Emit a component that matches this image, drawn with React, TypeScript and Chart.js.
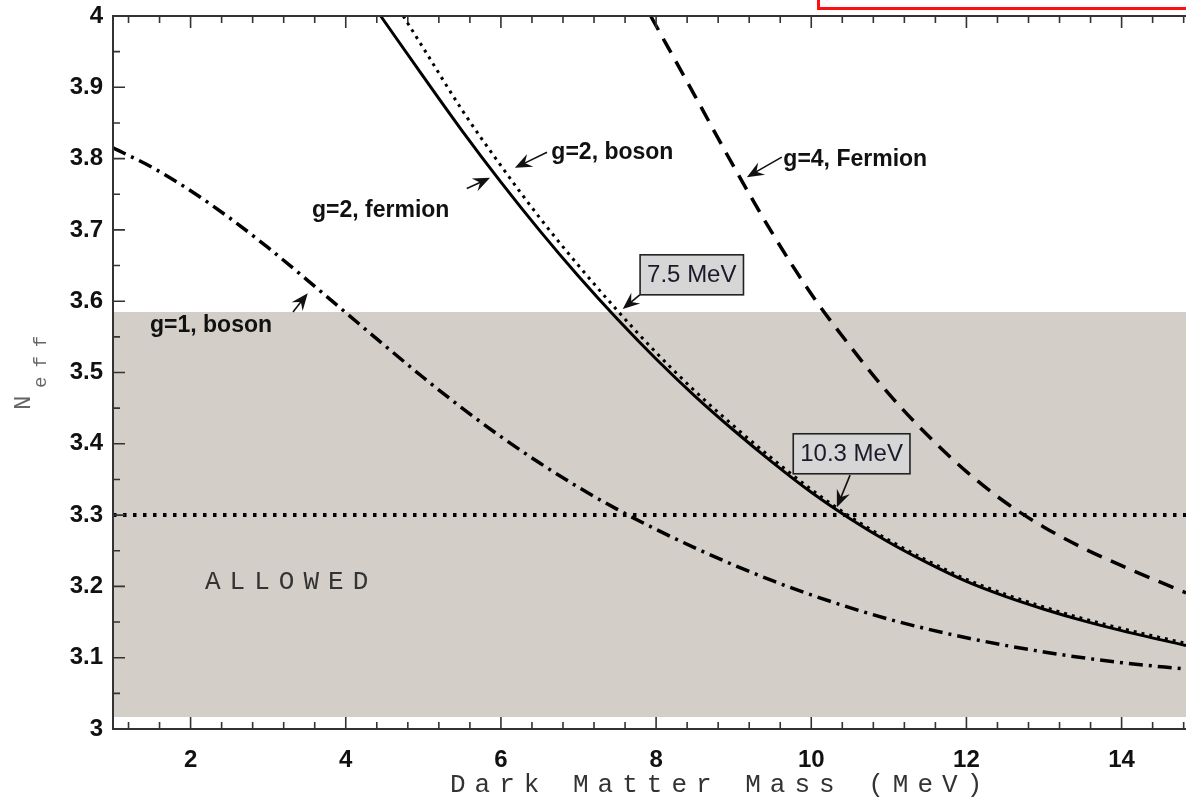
import React, { useEffect, useRef } from "react";
import { Chart, registerables } from "chart.js";

Chart.register(...registerables);

// ---- axes ----
const xMin = 1;
const xMax = 14.83;
const yMin = 3;
const yMax = 4;
const xTickValues = [2, 4, 6, 8, 10, 12, 14];
const yTickValues = [3, 3.1, 3.2, 3.3, 3.4, 3.5, 3.6, 3.7, 3.8, 3.9, 4];

// ---- allowed band ----
const allowedX = [1, 14.83];
const allowedTop = [3.585, 3.585];
const allowedBottom = 3.017;

// ---- N_eff = 3.3 bound ----
const boundX = [1, 14.83];
const boundY = [3.3, 3.3];

// ---- g=1, boson ----
const g1BosonX = [1, 1.5, 2, 2.5, 3, 3.5, 4, 4.5, 5, 5.5, 6, 6.5, 7, 7.5, 8, 8.5, 9, 9.5, 10, 11, 12, 13, 14, 14.83];
const g1BosonY = [3.815, 3.788, 3.755, 3.717, 3.675, 3.63, 3.584, 3.538, 3.493, 3.45, 3.41, 3.373, 3.339, 3.308, 3.28, 3.254, 3.23, 3.208, 3.188, 3.154, 3.128, 3.108, 3.093, 3.084];

// ---- g=2, fermion ----
const g2FermionX = [4.45, 5, 5.5, 6, 6.5, 7, 7.5, 8, 8.5, 9, 9.5, 10, 10.5, 11, 11.5, 12, 12.5, 13, 13.5, 14, 14.83];
const g2FermionY = [4.0, 3.915, 3.839, 3.767, 3.699, 3.635, 3.575, 3.519, 3.467, 3.419, 3.374, 3.332, 3.295, 3.262, 3.233, 3.207, 3.186, 3.168, 3.152, 3.138, 3.117];

// ---- g=2, boson ----
const g2BosonX = [4.74, 5, 5.5, 6, 6.5, 7, 7.5, 8, 8.5, 9, 9.5, 10, 10.5, 11, 11.5, 12, 12.5, 13, 13.5, 14, 14.83];
const g2BosonY = [4.0, 3.955, 3.868, 3.79, 3.717, 3.65, 3.587, 3.528, 3.474, 3.425, 3.379, 3.336, 3.298, 3.265, 3.236, 3.21, 3.189, 3.171, 3.155, 3.141, 3.12];

// ---- g=4, Fermion ----
const g4FermionX = [7.93, 8.5, 9, 9.5, 10, 10.5, 11, 11.5, 12, 12.5, 13, 13.5, 14, 14.83];
const g4FermionY = [4.0, 3.888, 3.789, 3.695, 3.61, 3.537, 3.47, 3.412, 3.361, 3.318, 3.283, 3.254, 3.229, 3.191];

// ---- annotations (data coordinates) ----
const curveLabels = [
  { text: "g=2, boson", x: 6.65, y: 3.808, tailX: 6.594, tailY: 3.809, tipX: 6.18, tipY: 3.787 },
  { text: "g=2, fermion", x: 3.565, y: 3.727, tailX: 5.56, tailY: 3.758, tipX: 5.86, tipY: 3.773 },
  { text: "g=1, boson", x: 1.477, y: 3.565, tailX: 3.32, tailY: 3.585, tipX: 3.51, tipY: 3.611 },
  { text: "g=4, Fermion", x: 9.64, y: 3.798, tailX: 9.62, tailY: 3.802, tipX: 9.17, tipY: 3.774 },
];
const boxLabels = [
  { text: "7.5 MeV", x: 8.46, y: 3.637, tailX: 7.79, tailY: 3.609, tipX: 7.57, tipY: 3.589 },
  { text: "10.3 MeV", x: 10.52, y: 3.386, tailX: 10.5, tailY: 3.356, tipX: 10.33, tipY: 3.311 },
];
const regionLabel = { text: "ALLOWED", x: 2.186, y: 3.206 };
const xTitle = "Dark Matter Mass (MeV)";

const pts = (xs: number[], ys: number[]) => xs.map((x, i) => ({ x, y: ys[i] }));

function drawArrow(ctx: CanvasRenderingContext2D, x1: number, y1: number, x2: number, y2: number) {
  const ang = Math.atan2(y2 - y1, x2 - x1);
  const len = 17;
  const half = 7;
  ctx.beginPath();
  ctx.moveTo(x1, y1);
  ctx.lineTo(x2 - Math.cos(ang) * 8, y2 - Math.sin(ang) * 8);
  ctx.lineWidth = 1.6;
  ctx.stroke();
  const bx = x2 - Math.cos(ang) * len;
  const by = y2 - Math.sin(ang) * len;
  const nx = -Math.sin(ang);
  const ny = Math.cos(ang);
  ctx.beginPath();
  ctx.moveTo(x2, y2);
  ctx.lineTo(bx + nx * half, by + ny * half);
  ctx.lineTo(x2 - Math.cos(ang) * 11, y2 - Math.sin(ang) * 11);
  ctx.lineTo(bx - nx * half, by - ny * half);
  ctx.closePath();
  ctx.fill();
}

const decorPlugin = {
  id: "decor",
  afterDatasetsDraw(chart: any) {
    const { ctx, chartArea: a, scales } = chart;
    const xs = scales.x;
    const ys = scales.y;
    ctx.save();
    // frame
    ctx.strokeStyle = "#333";
    ctx.lineWidth = 2;
    ctx.beginPath();
    ctx.moveTo(a.right + 5, a.top);
    ctx.lineTo(a.left, a.top);
    ctx.lineTo(a.left, a.bottom);
    ctx.lineTo(a.right + 5, a.bottom);
    ctx.stroke();
    // x ticks (inward, bottom and top)
    ctx.lineWidth = 1.6;
    ctx.beginPath();
    for (let i = -2; i <= 32; i++) {
      const v = Math.round((2 + i * 0.4) * 10) / 10;
      if (v <= xMin || v >= xMax) continue;
      const major = Math.abs(v / 2 - Math.round(v / 2)) < 1e-6;
      const len = major ? 12 : 7;
      const px = xs.getPixelForValue(v);
      ctx.moveTo(px, a.bottom);
      ctx.lineTo(px, a.bottom - len);
      ctx.moveTo(px, a.top);
      ctx.lineTo(px, a.top + len);
    }
    // y ticks (inward, left)
    for (let i = 1; i < 20; i++) {
      const v = yMin + i * 0.05;
      const len = i % 2 === 0 ? 12 : 7;
      const py = ys.getPixelForValue(v);
      ctx.moveTo(a.left, py);
      ctx.lineTo(a.left + len, py);
    }
    ctx.stroke();
    ctx.restore();
  },
  afterDraw(chart: any) {
    const { ctx, scales } = chart;
    const xs = scales.x;
    const ys = scales.y;
    const X = (v: number) => xs.getPixelForValue(v);
    const Y = (v: number) => ys.getPixelForValue(v);
    ctx.save();
    ctx.fillStyle = "#111";
    ctx.strokeStyle = "#111";
    // curve labels
    ctx.font = 'bold 23px "Liberation Sans", Arial, sans-serif';
    ctx.textAlign = "left";
    ctx.textBaseline = "middle";
    for (const l of curveLabels) {
      ctx.fillText(l.text, X(l.x), Y(l.y));
      drawArrow(ctx, X(l.tailX), Y(l.tailY), X(l.tipX), Y(l.tipY));
    }
    // boxed labels
    ctx.font = '24px "Liberation Sans", Arial, sans-serif';
    ctx.textAlign = "center";
    for (const b of boxLabels) {
      const cx = X(b.x);
      const cy = Y(b.y);
      const w = ctx.measureText(b.text).width + 14;
      const h = 40;
      ctx.fillStyle = "#d6d6d6";
      ctx.fillRect(cx - w / 2, cy - h / 2, w, h);
      ctx.lineWidth = 1.6;
      ctx.strokeStyle = "#222";
      ctx.strokeRect(cx - w / 2, cy - h / 2, w, h);
      ctx.fillStyle = "#1a1a2a";
      ctx.fillText(b.text, cx, cy + 1);
      ctx.fillStyle = "#111";
      ctx.strokeStyle = "#111";
      drawArrow(ctx, X(b.tailX), Y(b.tailY), X(b.tipX), Y(b.tipY));
    }
    // ALLOWED
    ctx.font = '26px "Liberation Mono", "Courier New", monospace';
    (ctx as any).letterSpacing = "9px";
    ctx.textAlign = "left";
    ctx.fillStyle = "#333";
    ctx.fillText(regionLabel.text, X(regionLabel.x), Y(regionLabel.y));
    // x title
    ctx.fillText(xTitle, 450, 785);
    // y title N_eff
    ctx.fillStyle = "#666";
    ctx.save();
    ctx.translate(24, 410);
    ctx.rotate(-Math.PI / 2);
    (ctx as any).letterSpacing = "0px";
    ctx.font = '24px "Liberation Mono", "Courier New", monospace';
    ctx.textAlign = "left";
    ctx.fillText("N", 0, 0);
    ctx.font = '19px "Liberation Mono", "Courier New", monospace';
    (ctx as any).letterSpacing = "9px";
    ctx.fillText("eff", 22, 17);
    ctx.restore();
    // red box fragment at the top
    (ctx as any).letterSpacing = "0px";
    ctx.strokeStyle = "#ff1010";
    ctx.lineWidth = 3;
    ctx.strokeRect(818.5, -20, 420, 28.5);
    ctx.restore();
  },
};

export default function App() {
  const ref = useRef<HTMLCanvasElement | null>(null);
  useEffect(() => {
    if (!ref.current) return;
    const tickFont = { family: '"Liberation Sans", Arial, sans-serif', weight: "bold" as const, size: 24 };
    const chart = new Chart(ref.current, {
      type: "line",
      data: {
        datasets: [
          {
            label: "g=2, fermion",
            data: pts(g2FermionX, g2FermionY),
            borderColor: "#000",
            borderWidth: 3,
            pointRadius: 0,
            cubicInterpolationMode: "monotone",
            order: 1,
          },
          {
            label: "g=2, boson",
            data: pts(g2BosonX, g2BosonY),
            borderColor: "#000",
            borderWidth: 3,
            borderDash: [3, 5],
            pointRadius: 0,
            cubicInterpolationMode: "monotone",
            order: 2,
          },
          {
            label: "g=4, Fermion",
            data: pts(g4FermionX, g4FermionY),
            borderColor: "#000",
            borderWidth: 3.5,
            borderDash: [16, 10],
            pointRadius: 0,
            cubicInterpolationMode: "monotone",
            order: 3,
          },
          {
            label: "g=1, boson",
            data: pts(g1BosonX, g1BosonY),
            borderColor: "#000",
            borderWidth: 3.5,
            borderDash: [14, 6, 3, 6],
            pointRadius: 0,
            cubicInterpolationMode: "monotone",
            order: 4,
          },
          {
            label: "bound",
            data: pts(boundX, boundY),
            borderColor: "#000",
            borderWidth: 4,
            borderDash: [3.5, 6.5],
            pointRadius: 0,
            order: 5,
          },
          {
            label: "allowed",
            data: pts(allowedX, allowedTop),
            borderWidth: 0,
            borderColor: "rgba(0,0,0,0)",
            backgroundColor: "#d3cfc8",
            fill: { value: allowedBottom },
            pointRadius: 0,
            order: 10,
          },
        ],
      },
      options: {
        animation: false,
        responsive: false,
        maintainAspectRatio: false,
        layout: { padding: { top: 16, left: 0, right: 0, bottom: 0 } },
        plugins: { legend: { display: false }, tooltip: { enabled: false } },
        scales: {
          x: {
            type: "linear",
            min: xMin,
            max: xMax,
            afterBuildTicks: (s: any) => {
              s.ticks = xTickValues.map((v) => ({ value: v }));
            },
            afterFit: (s: any) => {
              s.height = 71;
              s.paddingLeft = 0;
              s.paddingRight = 0;
            },
            grid: { display: false, drawTicks: false },
            border: { display: false },
            ticks: {
              font: tickFont,
              color: "#111",
              padding: 17,
              maxRotation: 0,
              autoSkip: false,
              callback: (v: any) => String(v),
            },
          },
          y: {
            type: "linear",
            min: yMin,
            max: yMax,
            afterBuildTicks: (s: any) => {
              s.ticks = yTickValues.map((v) => ({ value: v }));
            },
            afterFit: (s: any) => {
              s.width = 113;
              s.paddingTop = 0;
              s.paddingBottom = 0;
            },
            grid: { display: false, drawTicks: false },
            border: { display: false },
            ticks: {
              font: tickFont,
              color: "#111",
              padding: 10,
              autoSkip: false,
              callback: (v: any) => (Number.isInteger(v) ? String(v) : Number(v).toFixed(1)),
            },
          },
        },
      },
      plugins: [decorPlugin],
    } as any);
    return () => chart.destroy();
  }, []);
  return (
    <div style={{ position: "absolute", left: 0, top: 0, width: 1186, height: 800, background: "#fff" }}>
      <canvas ref={ref} width={1186} height={800} style={{ width: 1186, height: 800 }} />
    </div>
  );
}
